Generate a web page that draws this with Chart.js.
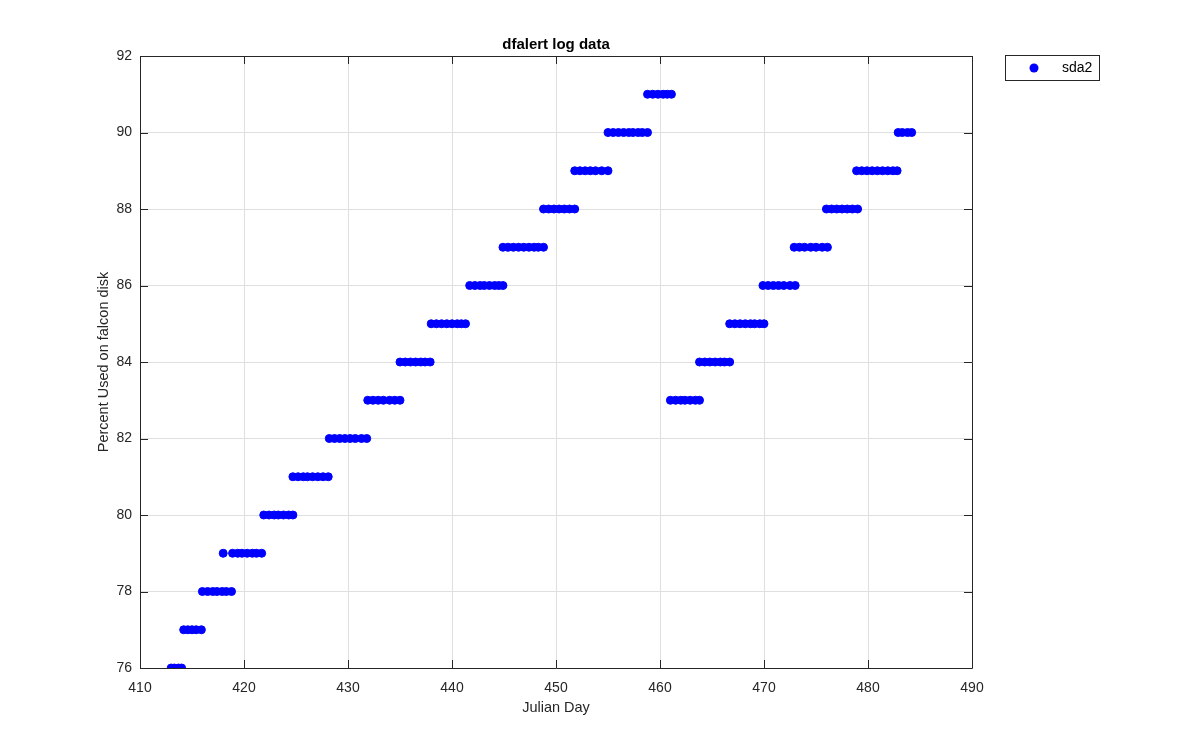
<!DOCTYPE html>
<html>
<head>
<meta charset="utf-8">
<script src="https://cdn.jsdelivr.net/npm/chart.js@4.4.1/dist/chart.umd.min.js"></script>
<style>
  html, body { margin: 0; padding: 0; background: #ffffff; }
  #wrap { width: 1200px; height: 750px; }
</style>
</head>
<body>
<div id="wrap"><canvas id="myChart" width="1200" height="750"></canvas></div>
<script>
// ---- data ----
const seriesName = 'sda2';
const xTicks = [410, 420, 430, 440, 450, 460, 470, 480, 490];
const yTicks = [76, 78, 80, 82, 84, 86, 88, 90, 92];

// percent used for each run of samples
const levels = [76, 77, 78, 79, 80, 81, 82, 83, 84, 85, 86, 87, 88, 89, 90, 91,
                83, 84, 85, 86, 87, 88, 89, 90];

// julian days sampled at each level (same order as levels)
const daysAtLevel = [
  [413.0, 413.3, 413.7, 414.0],
  [414.2, 414.6, 415.0, 415.4, 415.9],
  [416.0, 416.5, 417.0, 417.4, 417.9, 418.3, 418.8],
  [418.0, 418.9, 419.4, 419.8, 420.3, 420.8, 421.2, 421.7],
  [421.9, 422.4, 422.9, 423.3, 423.8, 424.3, 424.7],
  [424.7, 425.2, 425.7, 426.1, 426.6, 427.1, 427.6, 428.1],
  [428.2, 428.7, 429.2, 429.7, 430.2, 430.7, 431.3, 431.8],
  [431.9, 432.4, 432.9, 433.4, 434.0, 434.5, 435.0],
  [435.0, 435.5, 436.0, 436.5, 437.0, 437.4, 437.9],
  [438.0, 438.5, 439.0, 439.5, 440.0, 440.5, 440.9, 441.3],
  [441.7, 442.2, 442.7, 443.1, 443.6, 444.1, 444.5, 444.9],
  [444.9, 445.4, 445.9, 446.4, 446.9, 447.4, 447.9, 448.3, 448.8],
  [448.8, 449.3, 449.8, 450.3, 450.8, 451.3, 451.8],
  [451.8, 452.3, 452.8, 453.3, 453.8, 454.4, 455.0],
  [455.0, 455.5, 456.0, 456.5, 457.0, 457.4, 457.9, 458.3, 458.8],
  [458.8, 459.3, 459.8, 460.3, 460.7, 461.1],
  [461.0, 461.5, 462.0, 462.4, 462.9, 463.4, 463.8],
  [463.8, 464.3, 464.8, 465.3, 465.8, 466.2, 466.7],
  [466.7, 467.2, 467.7, 468.2, 468.7, 469.1, 469.6, 470.0],
  [469.9, 470.4, 470.9, 471.4, 471.9, 472.5, 473.0],
  [472.9, 473.4, 473.9, 474.5, 475.0, 475.6, 476.1],
  [476.0, 476.5, 477.0, 477.5, 478.0, 478.5, 479.0],
  [478.9, 479.4, 479.9, 480.4, 480.9, 481.4, 481.9, 482.4, 482.8],
  [482.9, 483.3, 483.8, 484.2]
];

// flatten into {x, y} points for the scatter
const points = [];
daysAtLevel.forEach((days, i) => {
  days.forEach(d => points.push({ x: d, y: levels[i] }));
});

const axisColor = '#262626';
const gridColor = '#dfdfdf';
const fontFamily = '"Liberation Sans", Arial, Helvetica, sans-serif';

// box, inward ticks, title and legend in MATLAB style
const matlabFrame = {
  id: 'matlabFrame',
  afterDraw(chart) {
    const ctx = chart.ctx;
    const a = chart.chartArea;
    const xs = chart.scales.x, ys = chart.scales.y;
    const tl = 8;
    ctx.save();
    ctx.strokeStyle = axisColor;
    ctx.lineWidth = 1;
    ctx.beginPath();
    ctx.rect(Math.round(a.left) + 0.5, Math.round(a.top) + 0.5,
             Math.round(a.right - a.left), Math.round(a.bottom - a.top));
    xTicks.forEach(v => {
      const px = Math.round(xs.getPixelForValue(v)) + 0.5;
      ctx.moveTo(px, a.bottom); ctx.lineTo(px, a.bottom - tl);
      ctx.moveTo(px, a.top); ctx.lineTo(px, a.top + tl);
    });
    yTicks.forEach(v => {
      const py = Math.round(ys.getPixelForValue(v)) + 0.5;
      ctx.moveTo(a.left, py); ctx.lineTo(a.left + tl, py);
      ctx.moveTo(a.right, py); ctx.lineTo(a.right - tl, py);
    });
    ctx.stroke();

    // title
    ctx.fillStyle = '#000000';
    ctx.font = 'bold 15px ' + fontFamily;
    ctx.textAlign = 'center';
    ctx.textBaseline = 'middle';
    ctx.fillText('dfalert log data', (a.left + a.right) / 2, 45);

    // legend box
    ctx.strokeStyle = axisColor;
    ctx.fillStyle = '#ffffff';
    ctx.fillRect(1005.5, 55.5, 94, 25);
    ctx.strokeRect(1005.5, 55.5, 94, 25);
    ctx.fillStyle = '#0000ff';
    ctx.beginPath();
    ctx.arc(1034, 68, 4.5, 0, Math.PI * 2);
    ctx.fill();
    ctx.fillStyle = '#000000';
    ctx.font = '14px ' + fontFamily;
    ctx.textAlign = 'left';
    ctx.fillText(seriesName, 1062, 68.5);
    ctx.restore();
  }
};

const ctx = document.getElementById('myChart').getContext('2d');

new Chart(ctx, {
  type: 'scatter',
  data: {
    datasets: [{
      label: seriesName,
      data: points,
      backgroundColor: '#0000ff',
      borderColor: '#0000ff',
      borderWidth: 1,
      pointRadius: 4,
      pointHoverRadius: 4
    }]
  },
  options: {
    responsive: false,
    animation: false,
    events: [],
    layout: {
      padding: { left: 80, right: 228, top: 56, bottom: 22 }
    },
    scales: {
      x: {
        type: 'linear',
        min: 410,
        max: 490,
        afterFit: s => { s.height = 60; },
        afterBuildTicks: s => { s.ticks = xTicks.map(v => ({ value: v })); },
        grid: { color: gridColor, drawTicks: false },
        border: { display: false },
        ticks: {
          color: axisColor,
          padding: 12,
          maxRotation: 0,
          font: { family: fontFamily, size: 14 }
        },
        title: {
          display: true,
          text: 'Julian Day',
          color: axisColor,
          padding: { top: 0, bottom: 11 },
          font: { family: fontFamily, size: 14.5 }
        }
      },
      y: {
        type: 'linear',
        min: 76,
        max: 92,
        afterFit: s => { s.width = 60; },
        afterBuildTicks: s => { s.ticks = yTicks.map(v => ({ value: v })); },
        grid: { color: gridColor, drawTicks: false },
        border: { display: false },
        ticks: {
          color: axisColor,
          padding: 8,
          font: { family: fontFamily, size: 14 }
        },
        title: {
          display: true,
          text: 'Percent Used on falcon disk',
          color: axisColor,
          padding: { top: 15, bottom: 0 },
          font: { family: fontFamily, size: 14.5 }
        }
      }
    },
    plugins: {
      legend: { display: false },
      title: { display: false },
      tooltip: { enabled: false }
    }
  },
  plugins: [matlabFrame]
});
</script>
</body>
</html>
